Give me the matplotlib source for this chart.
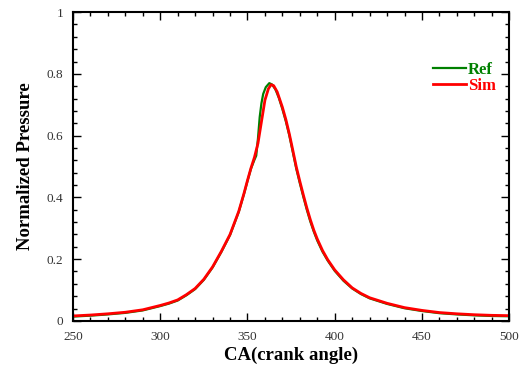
import matplotlib
matplotlib.use('Agg')
import matplotlib.pyplot as plt
from matplotlib.ticker import MultipleLocator

# crank angle (deg) and normalized pressure
sim_ca = [250, 260, 270, 280, 290, 300, 305, 310, 315, 320, 325, 330, 335,
          340, 345, 348, 350, 352, 354, 356, 358, 360, 362, 363.5, 365, 367,
          370, 372, 374, 376, 378, 380, 382, 384, 386, 388, 390, 393, 396,
          400, 405, 410, 415, 420, 430, 440, 450, 460, 470, 480, 490, 500]
sim_p = [0.016, 0.019, 0.023, 0.028, 0.036, 0.050, 0.058, 0.068, 0.085,
         0.105, 0.135, 0.175, 0.225, 0.280, 0.355, 0.413, 0.455, 0.495,
         0.530, 0.575, 0.645, 0.715, 0.752, 0.765, 0.762, 0.742, 0.692,
         0.652, 0.605, 0.552, 0.498, 0.452, 0.408, 0.366, 0.328, 0.294,
         0.265, 0.228, 0.198, 0.165, 0.133, 0.107, 0.089, 0.075, 0.057,
         0.043, 0.034, 0.027, 0.023, 0.020, 0.018, 0.017]

ref_ca = [250, 260, 270, 280, 290, 300, 305, 310, 315, 320, 325, 330, 335,
          340, 345, 348, 350, 352, 354, 355, 356, 357, 358, 359, 360.5, 362.5,
          364, 366, 368, 370, 372, 374, 376, 378, 380, 382, 384, 386, 388,
          390, 393, 396, 400, 405, 410, 415, 420, 430, 440, 450, 460, 470,
          480, 490, 500]
ref_p = [0.014, 0.017, 0.021, 0.026, 0.034, 0.048, 0.056, 0.066, 0.083,
         0.103, 0.133, 0.173, 0.223, 0.278, 0.353, 0.411, 0.453, 0.493,
         0.522, 0.535, 0.590, 0.660, 0.705, 0.735, 0.757, 0.770, 0.766,
         0.750, 0.722, 0.686, 0.646, 0.600, 0.546, 0.492, 0.446, 0.402,
         0.360, 0.322, 0.289, 0.260, 0.224, 0.195, 0.162, 0.130, 0.105,
         0.087, 0.073, 0.055, 0.041, 0.032, 0.025, 0.021, 0.018, 0.016,
         0.015]

serif = 'Liberation Serif'

fig = plt.figure(figsize=(5.25, 3.68), dpi=100)
ax = fig.add_axes([0.139, 0.128, 0.831, 0.839])

ax.plot(ref_ca, ref_p, color='#008000', lw=1.6, label='Ref')
ax.plot(sim_ca, sim_p, color='#ff0000', lw=2.0, label='Sim')

ax.set_xlim(250, 500)
ax.set_ylim(0, 1)
ax.xaxis.set_major_locator(MultipleLocator(50))
ax.xaxis.set_minor_locator(MultipleLocator(10))
ax.yaxis.set_major_locator(MultipleLocator(0.2))
ax.yaxis.set_minor_locator(MultipleLocator(0.04))
ax.yaxis.set_major_formatter(plt.FuncFormatter(lambda v, p: f'{v:g}'))

ax.tick_params(which='both', direction='in', top=True, right=True,
               width=1.0, colors='black')
ax.tick_params(which='major', length=6, pad=7, labelsize=9.5)
ax.tick_params(which='minor', length=3)
for lab in ax.get_xticklabels() + ax.get_yticklabels():
    lab.set_fontfamily(serif)
    lab.set_color('#333333')
for sp in ax.spines.values():
    sp.set_linewidth(1.5)

ax.set_xlabel('CA(crank angle)', fontfamily=serif, fontweight='bold',
              fontsize=13.5, labelpad=3)
ax.set_ylabel('Normalized Pressure', fontfamily=serif, fontweight='bold',
              fontsize=13.5, labelpad=9)

ax.legend(loc='upper right', bbox_to_anchor=(0.988, 0.866), frameon=False,
          labelcolor='linecolor', handlelength=2.0, handletextpad=0.1,
          labelspacing=0.0, borderpad=0,
          prop={'family': serif, 'weight': 'bold', 'size': 12})

fig.savefig('out.png', dpi=100)
